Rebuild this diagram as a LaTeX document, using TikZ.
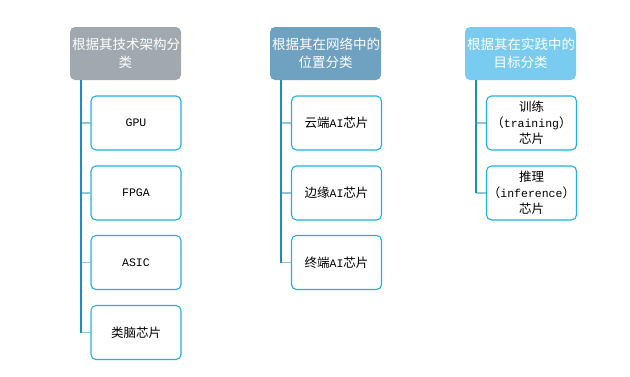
\documentclass[tikz,border=0pt]{standalone}
\usepackage{fontspec}
\setmainfont{Noto Sans CJK SC}
\newfontfamily\latmono{Liberation Mono}
\definecolor{hdA}{HTML}{A1A9AF}
\definecolor{hdB}{HTML}{6FA1C1}
\definecolor{hdC}{HTML}{79CCEF}
\definecolor{boxline}{HTML}{1FB0E6}
\definecolor{vcol}{HTML}{1A8CC8}
\definecolor{hcol}{HTML}{8FC6DE}
\begin{document}
\begin{tikzpicture}[x=1pt,y=-1pt,
  header/.style={rounded corners=5pt, minimum width=111pt, minimum height=53pt, inner sep=2pt,
    text=white, align=center, font=\fontsize{13.5}{18}\selectfont, text width=107pt},
  child/.style={draw=boxline, line width=1.1pt, rounded corners=5pt, fill=white,
    minimum width=90pt, minimum height=54pt, inner sep=1pt, align=center,
    font=\fontsize{12.5}{16}\selectfont},
  lat/.style={},
  vline/.style={draw=vcol, line width=1.4pt},
  hline/.style={draw=hcol, line width=1.8pt}]
\newcommand{\lt}[1]{{\latmono\fontsize{11.5}{16}\selectfont #1}}
\useasboundingbox (0,0) rectangle (630,376);
% headers
\node[header, fill=hdA] (h1) at (125.5,53.5) {根据其技术架构分\\类};
\node[header, fill=hdB] (h2) at (325.5,53.5) {根据其在网络中的\\位置分类};
\node[header, fill=hdC] (h3) at (520.5,53.5) {根据其在实践中的\\目标分类};
% column 1
\node[child] (c11) at (136,123) {\lt{GPU}};
\node[child] (c12) at (136,193) {\lt{FPGA}};
\node[child] (c13) at (136,262.5) {\lt{ASIC}};
\node[child] (c14) at (136,332.5) {类脑芯片};
% column 2
\node[child] (c21) at (336.5,123) {云端\lt{AI}芯片};
\node[child] (c22) at (336.5,193) {边缘\lt{AI}芯片};
\node[child] (c23) at (336.5,262.5) {终端\lt{AI}芯片};
% column 3
\node[child] (c31) at (531.5,123) {训练\\（\lt{training}）\\芯片};
\node[child] (c32) at (531.5,193) {推理\\（\lt{inference}）\\芯片};
% trunk coordinates
\coordinate (t1) at ([xshift=11pt]h1.south west);
\coordinate (t2) at ([xshift=11pt]h2.south west);
\coordinate (t3) at ([xshift=11pt]h3.south west);
% horizontal branches
\foreach \c in {c11,c12,c13,c14} \draw[hline] (\c.west) -- (\c.west -| t1);
\foreach \c in {c21,c22,c23} \draw[hline] (\c.west) -- (\c.west -| t2);
\foreach \c in {c31,c32} \draw[hline] (\c.west) -- (\c.west -| t3);
% vertical trunks
\draw[vline] (t1) -- (t1 |- c14.west);
\draw[vline] (t2) -- (t2 |- c23.west);
\draw[vline] (t3) -- (t3 |- c32.west);
\end{tikzpicture}
\end{document}
